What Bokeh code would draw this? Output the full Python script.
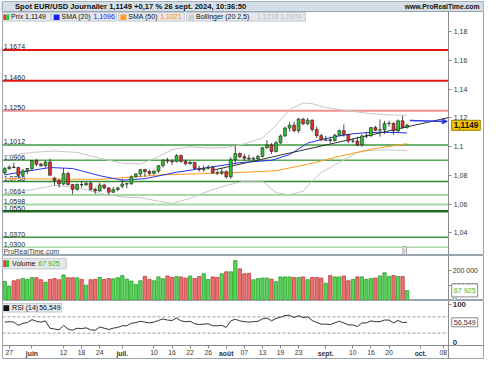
from bokeh.plotting import figure
from bokeh.layouts import column
from bokeh.models import (ColumnDataSource, FixedTicker, Label, BoxAnnotation,
                          Arrow, NormalHead, Range1d, LinearAxis)
from bokeh.core.properties import value
from bokeh.embed import file_html
from bokeh.resources import INLINE

# ---------------- data (trading-day index: 0 = 27 May 2024) ----------------
day_index = list(range(-1, 89))
opens = [1.0817, 1.0847, 1.0858, 1.0855, 1.0801, 1.0831, 1.0848, 1.0903, 1.0877, 1.0867,
         1.0893, 1.0780, 1.0764, 1.0740, 1.0813, 1.0737, 1.0703, 1.0737, 1.0734, 1.0745,
         1.0702, 1.0692, 1.0733, 1.0713, 1.0683, 1.0701, 1.0725, 1.0740, 1.0742, 1.0790,
         1.0810, 1.0840, 1.0827, 1.0814, 1.0830, 1.0868, 1.0907, 1.0900, 1.0895, 1.0938,
         1.0898, 1.0882, 1.0890, 1.0849, 1.0840, 1.0850, 1.0857, 1.0819, 1.0816, 1.0826,
         1.0790, 1.0910, 1.0952, 1.0930, 1.0920, 1.0915, 1.0918, 1.0932, 1.0993, 1.1012,
         1.0967, 1.1027, 1.1075, 1.1130, 1.1150, 1.1112, 1.1192, 1.1160, 1.1185, 1.1120,
         1.1077, 1.1045, 1.1048, 1.1043, 1.1080, 1.1112, 1.1085, 1.1039, 1.1040, 1.1012,
         1.1075, 1.1076, 1.1133, 1.1115, 1.1118, 1.1161, 1.1163, 1.1110, 1.1180, 1.1135]
highs = [1.0859, 1.0870, 1.0889, 1.0860, 1.0845, 1.0852, 1.0906, 1.0916, 1.0888, 1.0902,
         1.0916, 1.0790, 1.0775, 1.0852, 1.0825, 1.0740, 1.0743, 1.0761, 1.0752, 1.0760,
         1.0715, 1.0748, 1.0743, 1.0717, 1.0719, 1.0720, 1.0776, 1.0750, 1.0800, 1.0816,
         1.0845, 1.0845, 1.0838, 1.0835, 1.0872, 1.0910, 1.0922, 1.0914, 1.0948, 1.0945,
         1.0910, 1.0902, 1.0895, 1.0868, 1.0868, 1.0872, 1.0864, 1.0834, 1.0848, 1.0835,
         1.0927, 1.1009, 1.0960, 1.0950, 1.0945, 1.0930, 1.0945, 1.0998, 1.1047, 1.1025,
         1.1040, 1.1085, 1.1140, 1.1172, 1.1174, 1.1201, 1.1202, 1.1200, 1.1190, 1.1140,
         1.1090, 1.1075, 1.1070, 1.1090, 1.1120, 1.1155, 1.1090, 1.1060, 1.1070, 1.1085,
         1.1100, 1.1135, 1.1145, 1.1190, 1.1180, 1.1180, 1.1168, 1.1190, 1.1214, 1.1160]
lows = [1.0805, 1.0840, 1.0850, 1.0788, 1.0790, 1.0810, 1.0838, 1.0865, 1.0860, 1.0855,
        1.0800, 1.0730, 1.0715, 1.0732, 1.0730, 1.0668, 1.0693, 1.0714, 1.0728, 1.0695,
        1.0671, 1.0686, 1.0703, 1.0666, 1.0677, 1.0690, 1.0710, 1.0710, 1.0735, 1.0785,
        1.0790, 1.0790, 1.0800, 1.0805, 1.0815, 1.0855, 1.0883, 1.0873, 1.0893, 1.0888,
        1.0870, 1.0875, 1.0842, 1.0826, 1.0825, 1.0840, 1.0810, 1.0801, 1.0803, 1.0777,
        1.0777, 1.0880, 1.0920, 1.0902, 1.0906, 1.0905, 1.0905, 1.0925, 1.0985, 1.0950,
        1.0960, 1.1020, 1.1070, 1.1105, 1.1100, 1.1095, 1.1150, 1.1150, 1.1105, 1.1060,
        1.1040, 1.1040, 1.1025, 1.1035, 1.1075, 1.1070, 1.1025, 1.1025, 1.1002, 1.1000,
        1.1060, 1.1070, 1.1110, 1.1070, 1.1090, 1.1140, 1.1083, 1.1095, 1.1125, 1.1125]
closes = [1.0847, 1.0858, 1.0855, 1.0801, 1.0831, 1.0848, 1.0903, 1.0877, 1.0867, 1.0893,
          1.0801, 1.0764, 1.0740, 1.0813, 1.0737, 1.0703, 1.0737, 1.0734, 1.0745, 1.0702,
          1.0692, 1.0733, 1.0713, 1.0683, 1.0701, 1.0713, 1.0740, 1.0742, 1.0790, 1.0810,
          1.0840, 1.0827, 1.0814, 1.0830, 1.0868, 1.0907, 1.0900, 1.0895, 1.0938, 1.0898,
          1.0882, 1.0890, 1.0849, 1.0840, 1.0850, 1.0857, 1.0819, 1.0816, 1.0826, 1.0790,
          1.0910, 1.0952, 1.0930, 1.0920, 1.0915, 1.0918, 1.0932, 1.0993, 1.1012, 1.0967,
          1.1027, 1.1075, 1.1130, 1.1150, 1.1112, 1.1192, 1.1160, 1.1185, 1.1120, 1.1077,
          1.1047, 1.1048, 1.1043, 1.1080, 1.1112, 1.1085, 1.1039, 1.1040, 1.1012, 1.1075,
          1.1076, 1.1133, 1.1115, 1.1118, 1.1161, 1.1163, 1.1110, 1.1180, 1.1135, 1.1149]
volumes = [129000, 97000, 133000, 140000, 148000, 142000, 155000, 153000, 140000, 123000,
           142000, 148000, 140000, 172000, 153000, 153000, 153000, 142000, 103000, 140000,
           142000, 155000, 142000, 148000, 146000, 153000, 168000, 144000, 131000, 108000,
           133000, 163000, 142000, 133000, 159000, 146000, 165000, 155000, 161000, 159000,
           151000, 165000, 148000, 161000, 180000, 142000, 159000, 155000, 180000, 193000,
           193000, 269000, 213000, 180000, 183000, 140000, 148000, 151000, 151000, 144000,
           127000, 159000, 159000, 159000, 155000, 155000, 159000, 140000, 155000, 155000,
           151000, 116000, 168000, 159000, 159000, 165000, 133000, 142000, 159000, 159000,
           142000, 148000, 151000, 165000, 187000, 161000, 168000, 161000, 161000, 67925]
rsi = [57, 58, 57, 49, 54, 56, 63, 59, 57, 60, 42, 40, 38, 49, 40, 37, 42, 41, 43, 38,
       37, 45, 42, 39, 42, 44, 48, 48, 54, 56, 59, 57, 55, 57, 61, 65, 62, 61, 67, 60,
       58, 59, 53, 51, 52, 53, 48, 48, 49, 44, 60, 64, 60, 58, 57, 58, 59, 65, 67, 60,
       66, 69, 73, 74, 68, 73, 68, 70, 61, 56, 52, 52, 51, 55, 59, 55, 50, 50, 46, 55,
       55, 60, 58, 58, 62, 62, 55, 61, 56, 56.549]

sma20_idx = [-1, 4, 9, 14, 20, 25, 30, 37, 44, 51, 58, 62, 66, 69, 73, 76, 80, 84, 88]
sma20_val = [1.0804, 1.0830, 1.0855, 1.0848, 1.0798, 1.0767, 1.0777, 1.0822, 1.0855, 1.0889,
             1.0905, 1.0945, 1.1025, 1.1050, 1.1075, 1.1090, 1.1100, 1.1100, 1.1096]
sma50_idx = [-1, 10, 20, 27, 34, 41, 52, 59, 66, 73, 80, 88]
sma50_val = [1.0777, 1.0775, 1.0772, 1.0789, 1.0804, 1.0810, 1.0822, 1.0833, 1.0877, 1.0933,
             1.0982, 1.1021]
bb_idx = [-1, 5, 10, 15, 20, 25, 29, 33, 36, 40, 44, 48, 52, 56, 59, 62, 65, 67, 69, 73,
          77, 80, 84, 88]
bb_upper = [1.0935, 1.0960, 1.0970, 1.0960, 1.0920, 1.0885, 1.0880, 1.0930, 1.0980, 1.1000,
            1.0990, 1.0995, 1.1020, 1.1060, 1.1150, 1.1260, 1.1305, 1.1300, 1.1280, 1.1258,
            1.1242, 1.1230, 1.1222, 1.1218]
bb_lower = [1.0675, 1.0700, 1.0730, 1.0715, 1.0675, 1.0650, 1.0645, 1.0620, 1.0605, 1.0640,
            1.0690, 1.0730, 1.0760, 1.0760, 1.0680, 1.0665, 1.0690, 1.0760, 1.0820, 1.0890,
            1.0960, 1.0975, 1.0978, 1.0974]

trend_idx = [45, 97.2]
trend_val = [1.0836, 1.1203]
arrow_idx = [88.6, 96.9]
arrow_val = [1.1182, 1.1176]

levels = [1.1674, 1.1460, 1.1250, 1.1012, 1.0906, 1.0758, 1.0664, 1.0598, 1.0550, 1.0370, 1.0300]
level_labels = ["1,1674", "1,1460", "1,1250", "1,1012", "1,0906", "1,0758", "1,0664",
                "1,0598", "1,0550", "1,0370", "1,0300"]
level_colors = ["#e41414", "#e41414", "#f29090", "#3c9a3c", "#55aa55", "#2f8a2f", "#a6d9a6",
                "#a6d9a6", "#1f6e1f", "#3c9a3c", "#a6d9a6"]
level_widths = [2, 2, 2, 1.5, 1.5, 1.5, 2, 2, 2.5, 1.5, 1.5]

price_ticks = [1.04, 1.06, 1.08, 1.1, 1.12, 1.14, 1.16, 1.18]
price_tick_labels = ["1,04", "1,06", "1,08", "1,1", "1,12", "1,14", "1,16", "1,18"]
vol_ticks = [0, 100000, 200000]
vol_tick_labels = ["0", "100 000", "200 000"]
rsi_ticks = [0, 100]
rsi_tick_labels = ["0", "100"]
rsi_levels = [70, 30]
day_ticks = [0, 12, 16, 20, 32, 36, 40, 44, 52, 56, 60, 64, 76, 80, 84, 96]
day_labels = ["27", "12", "18", "24", "10", "16", "22", "26", "07", "13", "19", "23",
              "10", "16", "20", "08"]
month_ticks = [5, 25, 48, 70, 91]
month_labels = ["juin", "juil.", "août", "sept.", "oct."]

title_text = "Spot EUR/USD Journalier 1,1149 +0,17 % 26 sept. 2024, 10:36:50"
site_text = "www.ProRealTime.com"

# ---------------- layout constants ----------------
FONT = "Liberation Sans"
W = 484
LB = 2
AX = 97.2            # x (day index) where the value scales are drawn
PX_PER_DAY = 446.2 / (AX + 1.5)
FW = W - LB
H_HEAD, H_MAIN, H_VOL, H_RSI, H_DATE = 11, 244, 45, 45, 14
GREEN, RED = "#2fc22f", "#e2332c"
AX_SX = (AX + 1.5) * PX_PER_DAY       # screen x of the value scales
BOX_X = AX_SX + 3                     # screen x of value boxes
RSI_TOP, RSI_BASE = 110.1, -0.5
RSI_BOTTOM = RSI_BASE - H_DATE * (RSI_TOP - RSI_BASE) / H_RSI

xr = Range1d(-1.5, -1.5 + FW / PX_PER_DAY)


def fmt(v, d):
    return f"{v:.{d}f}".replace(".", ",")


def style_axis(ax, size="7px"):
    ax.axis_line_color = "#8a8a8a"
    ax.major_tick_line_color = "#8a8a8a"
    ax.minor_tick_line_color = None
    ax.major_tick_out = 3
    ax.major_tick_in = 0
    ax.major_label_standoff = 2
    ax.major_label_text_font = FONT
    ax.major_label_text_font_size = size
    ax.major_label_text_color = "#333333"


def base_fig(h, yr, ticks, tick_labels, edge_labels=False):
    f = figure(width=W, height=h, x_range=xr, y_range=yr,
               output_backend="svg", toolbar_location=None,
               x_axis_location=None, y_axis_location="right",
               min_border_left=LB, min_border_right=0, min_border_top=0,
               min_border_bottom=0)
    f.grid.visible = False
    f.outline_line_color = "#9aa4ae"
    f.background_fill_color = "white"
    f.border_fill_color = "white"
    ax = f.yaxis[0]
    ax.fixed_location = AX
    ax.ticker = FixedTicker(ticks=ticks)
    style_axis(ax)
    if edge_labels:
        # labels close to a panel edge are written as labels at their scale value
        ax.major_label_overrides = {t: "" for t in ticks}
    else:
        ax.major_label_overrides = dict(zip(ticks, tick_labels))
    return f


def edge_label(f, yv, txt, baseline, bold=False, size="7px"):
    f.add_layout(Label(x=BOX_X + 1, y=yv, x_units="screen", y_units="data", text=txt,
                       text_font=FONT, text_font_size=size,
                       text_font_style="bold" if bold else "normal",
                       text_color="#333333", text_baseline=baseline,
                       background_fill_color="white", padding=0))


def sbox(f, l, r, b, t, fill, line=None):
    f.add_layout(BoxAnnotation(left=l, right=r, bottom=b, top=t,
                               left_units="screen", right_units="screen",
                               bottom_units="screen", top_units="screen",
                               fill_color=fill, fill_alpha=1.0,
                               line_color=line, line_width=1, line_alpha=1.0))


def slabel(f, x, y, text, color="#111111", size="7px", bold=False, **kw):
    f.add_layout(Label(x=x, y=y, x_units="screen", y_units="screen", text=text,
                       text_color=color, text_font=FONT, text_font_size=size,
                       text_baseline="middle",
                       text_font_style="bold" if bold else "normal", **kw))


def value_box(f, yval, text, color, fill, border, bold=False, size="7.2px"):
    f.add_layout(Label(x=BOX_X, y=yval, x_units="screen", y_units="data",
                       text=text, text_font=FONT, text_font_size=size,
                       text_font_style="bold" if bold else "normal",
                       text_color=color, text_baseline="middle",
                       background_fill_color=fill, border_line_color=border,
                       padding=2))


# ---------------- header ----------------
hdr = figure(width=W, height=H_HEAD, x_range=(0, W), y_range=(0, H_HEAD),
             output_backend="svg", toolbar_location=None, min_border=0,
             x_axis_location=None, y_axis_location=None)
hdr.grid.visible = False
hdr.background_fill_color = "#d4dee7"
hdr.border_fill_color = "#d4dee7"
hdr.outline_line_color = "#a7b3be"
hdr.text(x=[12.6], y=[5.6], text=[title_text], text_font=value(FONT),
         text_font_size=value("7.6px"), text_font_style="bold", text_color="#111111",
         text_baseline="middle")
hdr.text(x=[479], y=[5.6], text=[site_text], text_font=value(FONT),
         text_font_size=value("6.8px"), text_font_style="bold", text_color="#111111",
         text_baseline="middle", text_align="right")

# ---------------- main price panel ----------------
p = base_fig(H_MAIN, Range1d(1.0242, 1.1942), price_ticks, price_tick_labels)

p.segment(x0=[xr.start] * len(levels), y0=levels, x1=[AX] * len(levels), y1=levels,
          line_color=level_colors, line_width=level_widths)
p.text(x=[xr.start + 0.25] * len(levels), y=levels, text=level_labels,
       text_font=value(FONT), text_font_size=value("7px"), text_color="#222222",
       text_baseline="bottom", y_offset=-0.5)

p.line(bb_idx, bb_upper, line_color="#c6c6c6", line_width=1)
p.line(bb_idx, bb_lower, line_color="#c6c6c6", line_width=1)
p.line(sma50_idx, sma50_val, line_color="#ff9a1a", line_width=1)
p.line(sma20_idx, sma20_val, line_color="#2233ee", line_width=1)
p.line(trend_idx, trend_val, line_color="#333333", line_width=1)

up = [c >= o for o, c in zip(opens, closes)]
cds = ColumnDataSource(dict(
    x=day_index, h=highs, l=lows,
    top=[max(o, c) for o, c in zip(opens, closes)],
    bot=[min(o, c) for o, c in zip(opens, closes)],
    fill=[GREEN if u else RED for u in up],
))
p.segment(x0="x", y0="l", x1="x", y1="h", source=cds, line_color="#222222", line_width=0.8)
p.vbar(x="x", width=0.64, top="top", bottom="bot", source=cds, fill_color="fill",
       line_color="#1c1c1c", line_width=0.6)

p.add_layout(Arrow(end=NormalHead(size=5, fill_color="#2a3be8", line_color="#2a3be8"),
                   x_start=arrow_idx[0], y_start=arrow_val[0],
                   x_end=arrow_idx[1], y_end=arrow_val[1],
                   line_color="#2a3be8", line_width=1.5))

# legend row of the price panel
lt, lb_ = H_MAIN - 0.9, H_MAIN - 9.6
ly = (lt + lb_) / 2
sbox(p, 0, 48.3, lb_, lt, "#e4e8ec", "#c2c9d0")
sbox(p, 49.3, 114.2, lb_, lt, "#e4e8ec", "#c2c9d0")
sbox(p, 116.1, 181.9, lb_, lt, "#e4e8ec", "#c2c9d0")
sbox(p, 183.9, 302.9, lb_, lt, "#e4e8ec", "#c2c9d0")
it, ib = H_MAIN - 2.9, H_MAIN - 8.6
sbox(p, 0.9, 3.8, ib, it, RED)
sbox(p, 3.8, 6.7, ib, it, GREEN)
sbox(p, 51.2, 57.0, ib, it, "#1020ee")
sbox(p, 118.0, 123.8, ib, it, "#ff9a1a")
sbox(p, 185.8, 191.6, ib, it, "#cfcfcf")
slabel(p, 8.6, ly, "Prix " + fmt(closes[-1], 4))
slabel(p, 59.0, ly, "SMA (20)")
slabel(p, 90.9, ly, fmt(sma20_val[-1], 4), color="#1020ee")
slabel(p, 125.8, ly, "SMA (50)")
slabel(p, 157.7, ly, fmt(sma50_val[-1], 4), color="#ff8c00")
slabel(p, 193.5, ly, "Bollinger (20 2,5)")
slabel(p, 254.5, ly, fmt(bb_upper[-1], 4) + " " + fmt(bb_lower[-1], 4), color="#bdbdbd")

slabel(p, 0.9, 4.2, "ProRealTime.com", color="#444444")
slabel(p, 400.5, 4.8, "i", color="#666666", size="6px", border_line_color="#9a9a9a",
       background_fill_color="white", padding=1)

value_box(p, closes[-1], fmt(closes[-1], 4), "#111111", "#f4c400", "#9c7d00",
          bold=True, size="8.2px")

# ---------------- volume panel ----------------
pv = base_fig(H_VOL, Range1d(0, 303000), vol_ticks, vol_tick_labels, edge_labels=True)
vsrc = ColumnDataSource(dict(
    x=day_index, v=volumes,
    fill=["#55d455" if u else "#e87272" for u in up],
    line=["#2c9e2c" if u else "#c63c3c" for u in up],
))
pv.vbar(x="x", top="v", bottom=0, width=0.74, source=vsrc, fill_color="fill",
        line_color="line", line_width=0.8)
edge_label(pv, vol_ticks[2], vol_tick_labels[2], "middle")
edge_label(pv, vol_ticks[1], vol_tick_labels[1], "middle")
edge_label(pv, vol_ticks[0], vol_tick_labels[0], "bottom")
vt, vb = H_VOL - 2.9, H_VOL - 13.4
sbox(pv, 0, 63.8, vb, vt, "#e4e8ec", "#c2c9d0")
sbox(pv, 0.9, 3.8, H_VOL - 11.5, H_VOL - 4.8, RED)
sbox(pv, 3.8, 6.7, H_VOL - 11.5, H_VOL - 4.8, GREEN)
vol_txt = f"{volumes[-1]:,}".replace(",", " ")
slabel(pv, 9.6, (vt + vb) / 2, "Volume")
slabel(pv, 35.8, (vt + vb) / 2, vol_txt, color="#2db82d")
value_box(pv, volumes[-1], vol_txt, "#2db82d", "white", "#8a8a8a")

# ---------------- RSI panel (with the date strip inside its frame) ----------------
HR = H_RSI + H_DATE
pr = base_fig(HR, Range1d(RSI_BOTTOM, RSI_TOP), rsi_ticks, rsi_tick_labels, edge_labels=True)
pr.segment(x0=[xr.start] * len(rsi_levels), y0=rsi_levels, x1=[AX] * len(rsi_levels),
           y1=rsi_levels, line_color="#9a9a9a", line_width=1, line_dash="3 2")
pr.line(day_index, rsi, line_color="#333333", line_width=1)
rt, rb_ = HR - 2.9, HR - 11.5
sbox(pr, 0, 59.0, rb_, rt, "#e4e8ec", "#c2c9d0")
sbox(pr, 0.9, 6.7, HR - 10.5, HR - 4.8, "#111111")
slabel(pr, 9.6, (rt + rb_) / 2, "RSI (14)")
slabel(pr, 36.7, (rt + rb_) / 2, fmt(rsi[-1], 3))
value_box(pr, rsi[-1], fmt(rsi[-1], 3), "#333333", "white", "#8a8a8a")
edge_label(pr, rsi_ticks[1], rsi_tick_labels[1], "middle", bold=True, size="8px")
edge_label(pr, rsi_ticks[0], rsi_tick_labels[0], "bottom", bold=True, size="8px")

for ticks, labels, style in ((day_ticks, day_labels, "normal"),
                             (month_ticks, month_labels, "bold")):
    xa = LinearAxis(fixed_location=RSI_BASE, ticker=FixedTicker(ticks=ticks),
                    major_label_overrides=dict(zip(ticks, labels)))
    style_axis(xa, "6.8px")
    xa.major_label_standoff = 1
    xa.major_label_text_font_style = style
    pr.add_layout(xa, "below")

layout = column(hdr, p, pv, pr, spacing=0)
open("out.html", "w").write(file_html(layout, INLINE))
